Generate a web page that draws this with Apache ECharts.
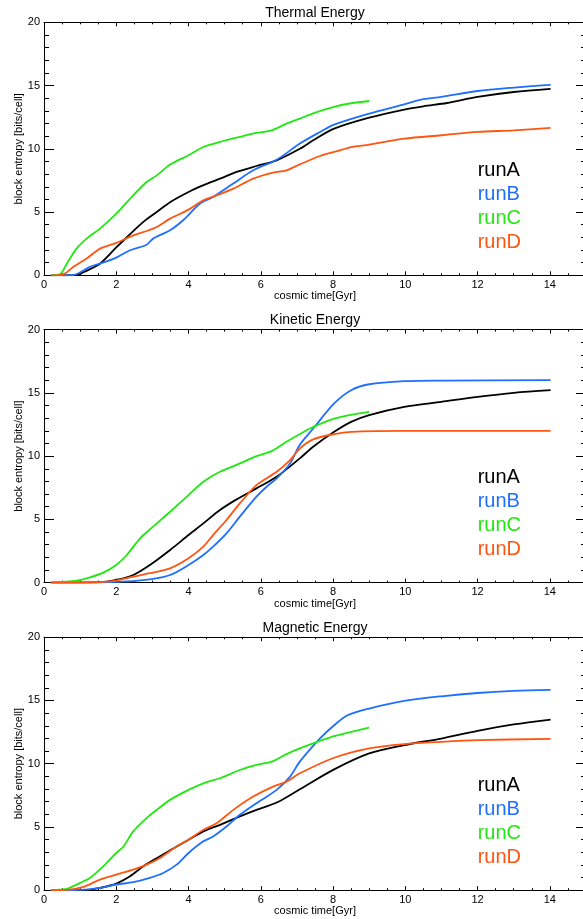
<!DOCTYPE html>
<html>
<head>
<meta charset="utf-8">
<title>block entropy</title>
<script src="https://cdn.jsdelivr.net/npm/echarts@6/dist/echarts.min.js"></script>
<style>
  html, body { margin: 0; padding: 0; background: #fff; }
  #chart { width: 583px; height: 919px; }
</style>
</head>
<body>
<div id="chart"></div>
<script>
"use strict";

// 面板标题与图例名称
const panelTitles = ["Thermal Energy", "Kinetic Energy", "Magnetic Energy"];
const runNames = ["runA", "runB", "runC", "runD"];
const runColors = ["#000000", "#1f6fff", "#22e811", "#ff5511"];

// Thermal Energy: [cosmic time, block entropy]
const thermalA = [[0.2,0],[0.9,0.02],[1.1,0.26],[1.55,0.92],[2.0,2.2],[2.3,3.03],[2.75,4.22],[3.12,5.0],[3.5,5.8],[4.0,6.59],[4.4,7.11],[4.87,7.64],[5.33,8.17],[5.88,8.64],[6.44,9.09],[7.08,10.0],[7.45,10.67],[8.03,11.59],[9.0,12.46],[9.97,13.1],[10.5,13.36],[11.15,13.62],[12.0,14.1],[13.0,14.49],[14.02,14.73]];
const thermalB = [[0.2,0],[0.8,0.02],[1.27,0.66],[1.55,0.92],[2.0,1.4],[2.38,1.98],[2.84,2.42],[3.02,2.9],[3.49,3.56],[3.85,4.35],[4.32,5.67],[4.68,6.19],[5.24,7.25],[5.79,8.3],[6.44,9.14],[7.08,10.41],[7.64,11.33],[8.03,11.91],[9.0,12.78],[9.97,13.52],[10.44,13.89],[11.0,14.1],[12.0,14.57],[13.0,14.84],[14.02,15.05]];
const thermalC = [[0.2,0],[0.45,0.1],[0.63,0.92],[0.9,2.11],[1.18,2.9],[1.55,3.69],[2.0,4.87],[2.47,6.32],[2.84,7.38],[3.12,7.9],[3.49,8.75],[4.0,9.49],[4.41,10.14],[4.87,10.54],[5.42,10.94],[5.88,11.25],[6.3,11.46],[6.71,11.99],[7.08,12.38],[7.45,12.8],[8.0,13.3],[8.5,13.6],[9.0,13.78]];
const thermalD = [[0.2,0],[0.53,0.08],[0.81,0.66],[1.18,1.32],[1.55,2.11],[2.0,2.56],[2.47,3.16],[2.84,3.5],[3.12,3.82],[3.49,4.48],[4.0,5.19],[4.41,5.93],[4.78,6.32],[5.24,6.85],[5.79,7.64],[6.34,8.12],[6.71,8.3],[7.08,8.77],[7.64,9.43],[8.03,9.75],[8.5,10.14],[9.0,10.33],[9.97,10.8],[11.0,11.07],[12.0,11.33],[13.0,11.46],[14.02,11.65]];

// Kinetic Energy
const kineticA = [[0.2,0],[1.5,0.02],[2.0,0.21],[2.47,0.6],[2.93,1.39],[3.49,2.58],[4.0,3.76],[4.41,4.68],[4.87,5.74],[5.33,6.58],[5.88,7.45],[6.44,8.37],[7.08,9.82],[7.45,10.74],[8.03,11.92],[8.5,12.71],[9.0,13.24],[9.97,13.89],[11.0,14.29],[12.0,14.68],[13.0,15.0],[14.02,15.21]];
const kineticB = [[0.2,0],[2.0,0.05],[2.93,0.26],[3.49,0.6],[4.0,1.39],[4.41,2.18],[4.68,2.84],[5.05,3.89],[5.42,5.21],[5.88,6.79],[6.16,7.58],[6.44,8.24],[6.81,9.42],[7.08,10.9],[7.45,12.18],[8.03,14.16],[8.5,15.21],[9.0,15.68],[9.97,15.92],[11.0,15.97],[14.02,16.0]];
const kineticC = [[0.2,0],[0.9,0.16],[1.27,0.42],[1.64,0.79],[2.0,1.39],[2.29,2.18],[2.66,3.5],[3.02,4.42],[3.49,5.6],[4.0,6.92],[4.41,7.97],[4.87,8.76],[5.42,9.42],[5.88,10.0],[6.3,10.39],[6.71,11.13],[7.08,11.74],[7.36,12.18],[8.03,12.97],[9.0,13.5]];
const kineticD = [[0.2,0],[1.5,0.03],[2.0,0.16],[2.47,0.47],[2.93,0.74],[3.49,1.13],[4.0,1.92],[4.41,2.84],[4.68,3.76],[5.05,4.95],[5.42,6.26],[5.88,7.71],[6.44,8.76],[6.81,9.68],[7.08,10.6],[7.45,11.32],[8.03,11.74],[8.5,11.92],[9.97,12.0],[14.02,12.0]];

// Magnetic Energy
const magneticA = [[0.2,0],[1.2,0.02],[1.55,0.18],[2.0,0.52],[2.38,1.1],[2.75,1.89],[3.21,2.68],[3.67,3.46],[4.0,3.99],[4.41,4.65],[4.87,5.17],[5.42,5.83],[5.88,6.35],[6.44,6.93],[7.08,7.98],[8.03,9.55],[9.0,10.81],[9.97,11.47],[11.0,11.99],[12.0,12.6],[13.0,13.1],[14.02,13.49]];
const magneticB = [[0.2,0],[1.0,0.02],[1.55,0.18],[2.0,0.45],[2.47,0.63],[2.93,0.97],[3.3,1.36],[3.67,2.02],[4.0,2.94],[4.41,3.86],[4.68,4.25],[5.05,5.04],[5.42,5.96],[5.88,6.88],[6.44,7.93],[6.81,8.98],[7.08,10.16],[7.64,12.0],[8.03,13.04],[8.4,13.83],[9.0,14.36],[9.97,14.96],[11.0,15.33],[12.0,15.59],[13.0,15.75],[14.02,15.83]];
const magneticC = [[0.2,0],[0.63,0.1],[1.0,0.58],[1.27,0.97],[1.64,1.89],[2.0,2.94],[2.2,3.46],[2.47,4.65],[2.84,5.7],[3.12,6.35],[3.49,7.14],[4.0,7.93],[4.41,8.45],[4.87,8.85],[5.42,9.5],[5.88,9.9],[6.3,10.16],[6.71,10.76],[7.08,11.21],[7.64,11.8],[8.03,12.18],[9.0,12.86]];
const magneticD = [[0.2,0],[0.63,0.02],[1.09,0.26],[1.55,0.84],[2.0,1.23],[2.47,1.63],[2.84,2.02],[3.21,2.55],[3.67,3.46],[4.0,3.99],[4.41,4.78],[4.78,5.3],[5.24,6.35],[5.79,7.4],[6.34,8.19],[6.71,8.58],[7.08,9.24],[8.03,10.47],[9.0,11.21],[9.97,11.55],[11.0,11.73],[12.0,11.86],[14.02,11.97]];

const panelData = [
    [thermalA, thermalB, thermalC, thermalD],
    [kineticA, kineticB, kineticC, kineticD],
    [magneticA, magneticB, magneticC, magneticD],
];

// 版面
const panelTop = [22.3, 329.6, 637.2];
const panelHeight = 253;
const black = '#000';
const font = "'Liberation Sans', Arial, sans-serif";

let myChart = echarts.init(document.getElementById('chart'), null, {renderer: 'canvas'});

let grid = [], xAxis = [], yAxis = [], title = [], legend = [], series = [];

panelTitles.forEach(function (name, i) {
    let top = panelTop[i];

    // 右边框落在画布外（原图被裁切）
    grid.push({left: 44, width: 542, top: top, height: panelHeight, outerBoundsMode: 'none', containLabel: false});

    title.push({
        text: name,
        left: 315,
        top: top - 16.3,
        textAlign: 'center',
        padding: 0,
        textStyle: {fontSize: 14, fontWeight: 'normal', color: black, fontFamily: font},
    });

    legend.push({
        orient: 'vertical',
        left: 472.7,
        top: top + 136,
        padding: 0,
        icon: 'none',
        itemWidth: 0,
        itemHeight: 10,
        itemGap: 0,
        selectedMode: false,
        textStyle: {fontSize: 20, lineHeight: 24, fontFamily: font},
        data: runNames.map(function (n, k) {
            return {name: n, textStyle: {color: runColors[k]}};
        }),
    });

    // X 轴：主刻度（下、上）和次刻度（下、上）
    ['bottom', 'top'].forEach(function (pos) {
        xAxis.push({
            gridIndex: i,
            type: 'value',
            position: pos,
            min: 0,
            max: 15,
            interval: 2,
            axisLine: {show: true, onZero: false, lineStyle: {color: black, width: 1}},
            axisTick: {show: true, inside: true, length: 4, lineStyle: {color: black}},
            axisLabel: {
                show: pos === 'bottom',
                color: black,
                fontSize: 11,
                fontFamily: font,
                margin: 4,
                formatter: function (v) { return v % 2 === 0 ? String(v) : ''; },
            },
            splitLine: {show: false},
            name: pos === 'bottom' ? 'cosmic time[Gyr]' : '',
            nameLocation: 'middle',
            nameGap: 15.5,
            nameMoveOverlap: false,
            nameTextStyle: {fontSize: 11, color: black, fontFamily: font},
        });
        xAxis.push({
            gridIndex: i,
            type: 'value',
            position: pos,
            min: 0,
            max: 15,
            interval: 0.5,
            axisLine: {show: false, onZero: false},
            axisTick: {show: true, inside: true, length: 2, lineStyle: {color: black}},
            axisLabel: {show: false},
            splitLine: {show: false},
        });
    });

    // Y 轴：左、右
    ['left', 'right'].forEach(function (pos) {
        yAxis.push({
            gridIndex: i,
            type: 'value',
            position: pos,
            min: 0,
            max: 20,
            interval: 5,
            axisLine: {show: true, onZero: false, lineStyle: {color: black, width: 1}},
            axisTick: {show: true, inside: true, length: 10, lineStyle: {color: black}},
            minorTick: {show: true, splitNumber: 5, length: 5, lineStyle: {color: black}},
            axisLabel: {show: pos === 'left', color: black, fontSize: 11, fontFamily: font, margin: 4},
            splitLine: {show: false},
            name: pos === 'left' ? 'block entropy [bits/cell]' : '',
            nameLocation: 'middle',
            nameGap: 20,
            nameMoveOverlap: false,
            nameTextStyle: {fontSize: 11, color: black, fontFamily: font},
        });
    });

    panelData[i].forEach(function (data, k) {
        series.push({
            name: runNames[k],
            type: 'line',
            xAxisIndex: i * 4,
            yAxisIndex: i * 2,
            data: data,
            showSymbol: false,
            symbol: 'none',
            smooth: 0.3,
            lineStyle: {color: runColors[k], width: 1.8},
            itemStyle: {color: runColors[k]},
            z: 2 + k,
        });
    });
});

let option = {
    animation: false,
    backgroundColor: '#fff',
    textStyle: {fontFamily: font},
    title: title,
    legend: legend,
    grid: grid,
    xAxis: xAxis,
    yAxis: yAxis,
    series: series,
};

myChart.setOption(option);
</script>
</body>
</html>
